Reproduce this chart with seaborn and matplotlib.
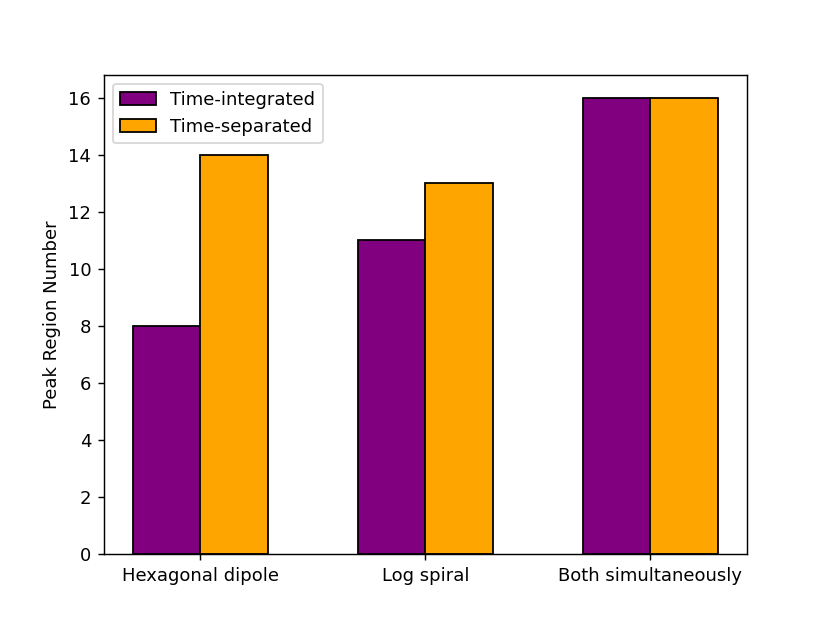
import matplotlib
matplotlib.use('Agg')
import matplotlib.pyplot as plt
import pandas as pd
import seaborn as sns

methods = ['Hexagonal dipole', 'Log spiral', 'Both simultaneously']
time_integrated = [8, 11, 16]
time_separated = [14, 13, 16]
series = ['Time-integrated', 'Time-separated']
colors = ['purple', 'orange']


def main():
    df = pd.DataFrame({
        'method': methods * 2,
        'count': time_integrated + time_separated,
        'kind': [series[0]] * len(methods) + [series[1]] * len(methods),
    })

    f, ax = plt.subplots(figsize=(6.4, 4.804), dpi=129.6875)
    sns.barplot(data=df, x='method', y='count', hue='kind',
                palette=colors, width=0.6, edgecolor='black',
                linewidth=1, saturation=1, ax=ax)
    ax.set_xlim(-0.43, 2.43)
    ax.set_ylim(0, 16.8)
    ax.set_xlabel('')
    ax.set_ylabel('Peak Region Number')
    sns.move_legend(ax, 'upper left', title=None)

    f.savefig('out.png')


if __name__ == '__main__':
    main()
